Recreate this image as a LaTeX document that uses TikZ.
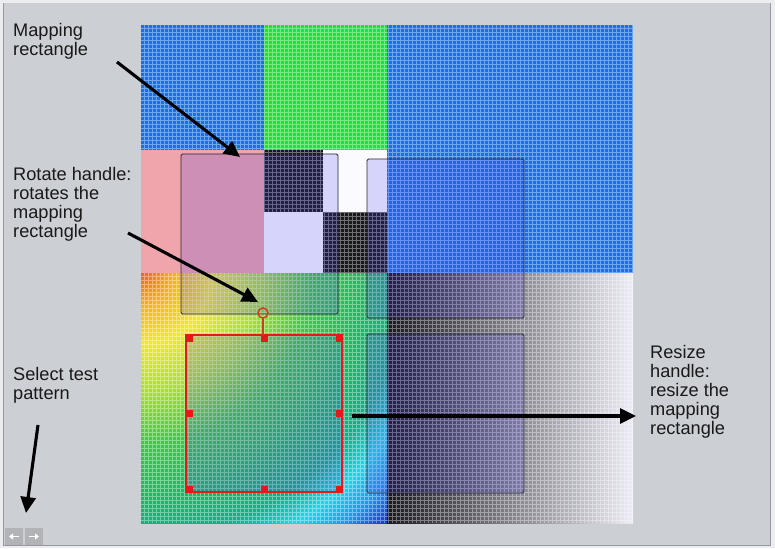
\documentclass[tikz,border=0pt]{standalone}
\usepackage{fontspec}
\setmainfont{Liberation Sans}
\usetikzlibrary{arrows.meta}
\definecolor{frameGray}{RGB}{236,237,239}
\definecolor{panelGray}{RGB}{204,207,211}
\definecolor{edgeGray}{RGB}{150,152,156}
\definecolor{tpBlue}{RGB}{22,112,238}
\definecolor{tpGreen}{RGB}{30,226,56}
\definecolor{tpPink}{RGB}{240,164,172}
\definecolor{tpDark}{RGB}{24,24,28}
\definecolor{tpWhite}{RGB}{250,250,255}
\definecolor{overlayBlue}{RGB}{70,60,230}
\definecolor{rectEdge}{RGB}{40,40,52}
\definecolor{handleRed}{RGB}{230,24,24}
\definecolor{rotRed}{RGB}{208,64,24}
\definecolor{btnGray}{RGB}{178,179,183}
% rainbow stops
\definecolor{rbA}{RGB}{238,100,30}
\definecolor{rbB}{RGB}{245,175,30}
\definecolor{rbC}{RGB}{240,232,40}
\definecolor{rbD}{RGB}{165,222,50}
\definecolor{rbE}{RGB}{60,200,70}
\definecolor{rbF}{RGB}{30,182,100}
\definecolor{rbG}{RGB}{20,172,135}
\definecolor{rbH}{RGB}{30,215,235}
\definecolor{rbI}{RGB}{30,150,240}
\definecolor{rbJ}{RGB}{20,50,200}
\definecolor{rbK}{RGB}{20,20,170}
\pgfdeclareradialshading{tpRainbow}{\pgfpoint{0bp}{0bp}}{%
  color(0bp)=(rbA); color(30bp)=(rbB); color(70bp)=(rbC); color(120bp)=(rbD);
  color(170bp)=(rbE); color(225bp)=(rbF); color(262bp)=(rbG); color(292bp)=(rbH);
  color(320bp)=(rbI); color(350bp)=(rbJ); color(360bp)=(rbK)}
\begin{document}
\begin{tikzpicture}[x=1pt,y=-1pt,
    tpLabel/.style={anchor=base west,align=left,inner sep=0pt,font=\fontsize{18.2}{19}\selectfont,text=black!90},
    tpArrow/.style={-{Triangle[length=16pt,width=15pt]},line width=3.1pt},
    tpMapRect/.style={draw=rectEdge,line width=0.8pt,fill=overlayBlue,fill opacity=0.2,rounded corners=1.5pt},
    tpHandle/.style={fill=handleRed},
]
\useasboundingbox (0,0) rectangle (775,548);
% Window
\fill[frameGray] (0,0) rectangle (775,548);
\fill[panelGray] (3,3) rectangle (770,545);
\draw[edgeGray,line width=1pt] (3,3) -- (3,545) -- (770,545) -- (770,3);
% Test pattern
\fill[tpBlue] (141,25) rectangle (264,150);
\fill[tpGreen] (264,25) rectangle (387,150);
\fill[tpBlue] (387,25) rectangle (633,273);
\fill[tpDark] (264,150) rectangle (323,212);
\fill[tpWhite] (323,150) rectangle (387,212);
\fill[tpWhite] (264,212) rectangle (323,273);
\fill[tpDark] (323,212) rectangle (387,273);
\begin{scope}
  \clip (141,273) rectangle (387,523);
  \node[inner sep=0pt] (rainbowFan) at (141,273) {\pgfuseshading{tpRainbow}};
\end{scope}
\shade[left color={rgb,255:red,22;green,22;blue,30},middle color={rgb,255:red,140;green,140;blue,150},
  right color={rgb,255:red,236;green,236;blue,246}] (387,273) rectangle (633,523);
\draw[white,opacity=0.38,line width=0.6pt,step=4pt] (141,523) grid (633,25);
\fill[tpPink] (141,150) rectangle (264,273);
% Mapping rectangles
\draw[tpMapRect] (181,154) rectangle (338,314);
\draw[tpMapRect] (367,159) rectangle (524,318);
\draw[tpMapRect] (367,334) rectangle (524,493);
% Selected rectangle
\fill[overlayBlue,opacity=0.18] (186,335) rectangle (342,492);
\draw[handleRed,line width=2pt] (186,335) rectangle (342,492);
\foreach \hx/\hy in {189.5/338,264/338,339/338,189.5/413.5,339/413.5,189.5/489,264/489,339/489}
  \fill[tpHandle] (\hx-3.5,\hy-3.5) rectangle ++(7,7);
\draw[rotRed,line width=1.8pt] (263,318) -- (263,335);
\node[circle,draw=rotRed,line width=1.5pt,minimum size=10pt,inner sep=0pt] (rotHandle) at (263,313) {};
% Labels (anchor is the baseline of the last line)
\node[tpLabel] (lblMap) at (13,55.5) {Mapping\\rectangle};
\node[tpLabel] (lblRotate) at (13,237) {Rotate handle:\\rotates the\\mapping\\rectangle};
\node[tpLabel] (lblResize) at (650,434.5) {Resize\\handle:\\resize the\\mapping\\rectangle};
\node[tpLabel] (lblSelect) at (13,399) {Select test\\pattern};
% Arrows
\coordinate (mapTail) at (117,62);
\coordinate (mapTip) at (240,157);
\coordinate (rotTail) at (128,233);
\coordinate (rotTip) at (258,302);
\coordinate (resTail) at (352,416);
\coordinate (resTip) at (636,416);
\coordinate (selTail) at (38,425);
\coordinate (selTip) at (26,513);
\draw[tpArrow] (mapTail) -- (mapTip);
\draw[tpArrow] (rotTail) -- (rotTip);
\draw[tpArrow] (resTail) -- (resTip);
\draw[tpArrow] (selTail) -- (selTip);
% Pattern buttons
\fill[btnGray] (5,528) rectangle (23,545);
\fill[btnGray] (25,528) rectangle (43,545);
\draw[white,line width=1.6pt,-{Triangle[length=4pt,width=6pt]}] (19,536.5) -- (9,536.5);
\draw[white,line width=1.6pt,-{Triangle[length=4pt,width=6pt]}] (29,536.5) -- (39,536.5);
\end{tikzpicture}
\end{document}
